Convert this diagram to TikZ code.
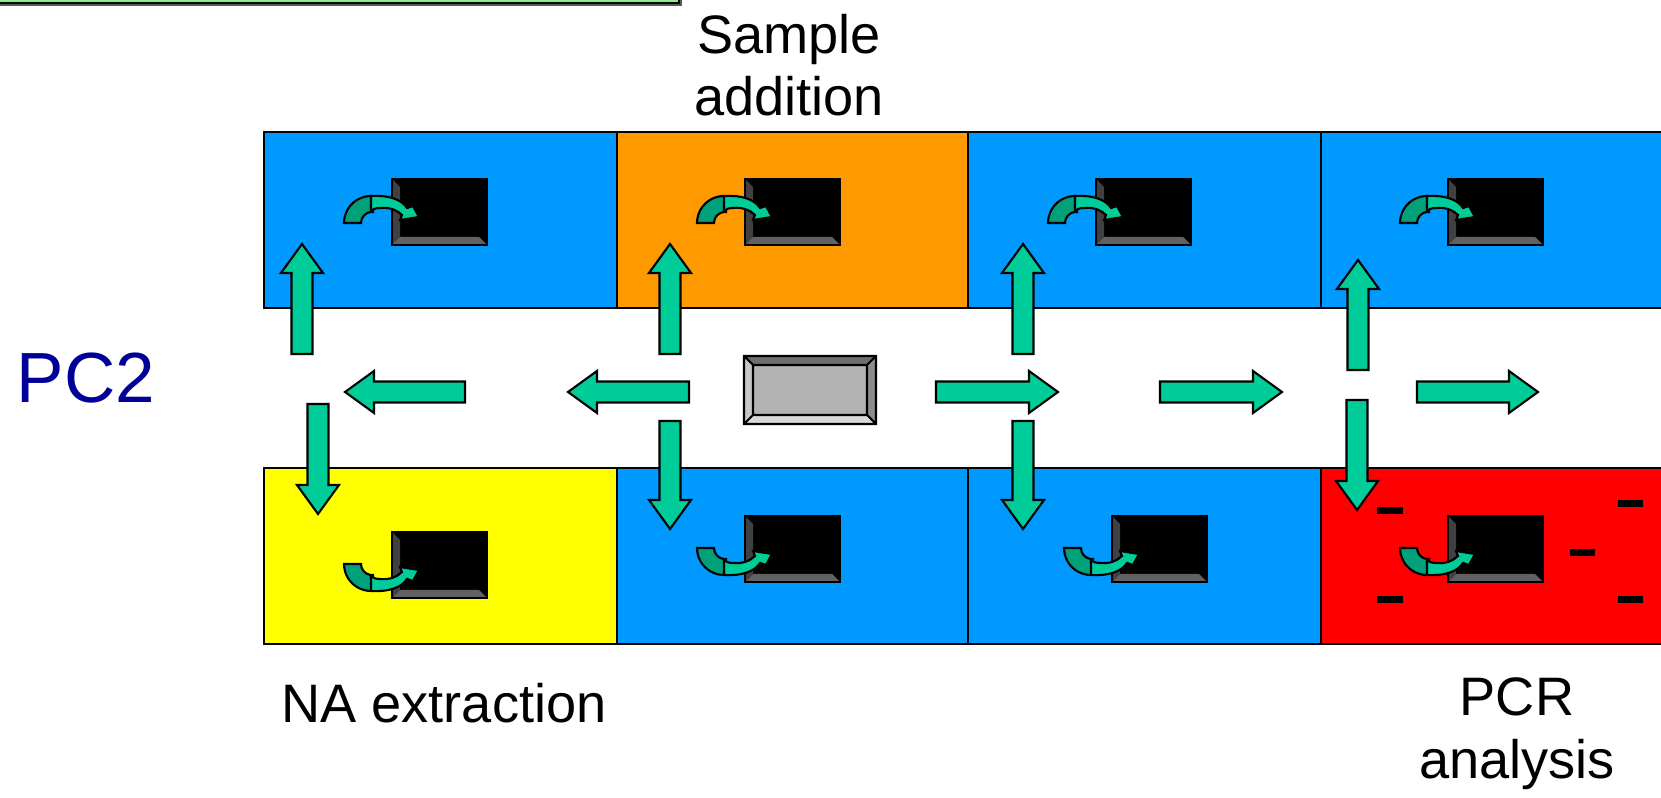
\documentclass[tikz,border=0pt]{standalone}
\usepackage{fontspec}
\setmainfont{Liberation Sans}
\definecolor{roomblue}{RGB}{0,153,255}
\definecolor{roomorange}{RGB}{255,153,0}
\definecolor{roomyellow}{RGB}{255,255,0}
\definecolor{roomred}{RGB}{255,0,0}
\definecolor{flowgreen}{RGB}{0,204,153}
\definecolor{turndark}{RGB}{0,160,122}
\definecolor{bandgreen}{RGB}{136,238,136}
\definecolor{pcblue}{RGB}{0,0,153}
\tikzset{
    room/.style={draw=black, line width=0.6pt},
    flowline/.style={draw=black, line width=0.6pt, fill=flowgreen, line join=miter},
    label/.style={inner sep=0pt, align=center, font=\fontsize{15.4}{17.8}\selectfont},
    pics/flow/.style={code={
        \path[flowline] (0,-10.5) -- ({#1-29},-10.5) -- ({#1-29},-21) -- (#1,0)
            -- ({#1-29},21) -- ({#1-29},10.5) -- (0,10.5) -- cycle;
    }},
    pics/turn/.style={code={
        \path[flowline, fill=turndark] (0,0) arc[start angle=180, end angle=275, radius=27]
            -- (29,-11) arc[start angle=275, end angle=180, radius=11] -- cycle;
        \path[flowline] (27,-27) .. controls (46,-28) and (58,-23) .. (63,-15) -- (69,-17)
            -- (75,-6) -- (56,-3) -- (58,-8) .. controls (53,-13) and (45,-16) .. (36,-15)
            .. controls (32,-15) and (29,-14) .. (27,-12) -- cycle;
    }},
    pics/slot/.style={code={
        \fill[black] (0,0) rectangle (95,66);
        \fill[black!75] (0,0) -- (8,8) -- (8,58) -- (0,66) -- cycle;
        \fill[black!62] (0,66) -- (8,58) -- (87,58) -- (95,66) -- cycle;
        \draw[line width=0.6pt] (0,0) rectangle (95,66);
    }}
}

\begin{document}
\begin{tikzpicture}[x=0.01cm, y=-0.01cm]
    \useasboundingbox (0,0) rectangle (1661,798);
    \clip (0,0) rectangle (1661,798);

    \fill[black!65] (-20,-100) rectangle (682,6);
    \draw[fill=bandgreen, line width=0.6pt] (-20,-100) rectangle (679,3);

    \draw[room, fill=roomblue] (264,132) rectangle (617,308);
    \draw[room, fill=roomorange] (617,132) rectangle (968,308);
    \draw[room, fill=roomblue] (968,132) rectangle (1321,308);
    \draw[room, fill=roomblue] (1321,132) rectangle (1690,308);
    \draw[room, fill=roomyellow] (264,468) rectangle (617,644);
    \draw[room, fill=roomblue] (617,468) rectangle (968,644);
    \draw[room, fill=roomblue] (968,468) rectangle (1321,644);
    \draw[room, fill=roomred] (1321,468) rectangle (1690,644);

    \fill (1377,507) rectangle (1403,514);
    \fill (1618,500) rectangle (1643,507);
    \fill (1570,549) rectangle (1595,556);
    \fill (1377,596) rectangle (1403,603);
    \fill (1618,596) rectangle (1643,603);

    \pic (slotA) at (392,179) {slot};
    \pic (slotB) at (745,179) {slot};
    \pic (slotC) at (1096,179) {slot};
    \pic (slotD) at (1448,179) {slot};
    \pic (slotE) at (392,532) {slot};
    \pic (slotF) at (745,516) {slot};
    \pic (slotG) at (1112,516) {slot};
    \pic (slotH) at (1448,516) {slot};

    \pic (turnA) at (344,223) {turn};
    \pic (turnB) at (697,223) {turn};
    \pic (turnC) at (1048,223) {turn};
    \pic (turnD) at (1400,223) {turn};
    \pic[yscale=-1] (turnE) at (344,564) {turn};
    \pic[yscale=-1] (turnF) at (697,548) {turn};
    \pic[yscale=-1] (turnG) at (1064,548) {turn};
    \pic[yscale=-1] (turnH) at (1400,548) {turn};

    \fill[black!30] (744,356) rectangle (876,424);
    \fill[black!57] (744,356) -- (876,356) -- (867,365) -- (753,365) -- cycle;
    \fill[black!22] (744,356) -- (753,365) -- (753,415) -- (744,424) -- cycle;
    \fill[black!45] (876,356) -- (867,365) -- (867,415) -- (876,424) -- cycle;
    \fill[black!15] (744,424) -- (753,415) -- (867,415) -- (876,424) -- cycle;
    \draw[line width=0.6pt] (744,356) rectangle (876,424) (753,365) rectangle (867,415)
        (744,356) -- (753,365) (876,356) -- (867,365) (744,424) -- (753,415) (876,424) -- (867,415);

    \pic[rotate=90] (upA) at (302,354) {flow=110};
    \pic[rotate=90] (upB) at (670,354) {flow=110};
    \pic[rotate=90] (upC) at (1023,354) {flow=110};
    \pic[rotate=90] (upD) at (1358,370) {flow=110};
    \pic[rotate=-90] (downA) at (318,404) {flow=110};
    \pic[rotate=-90] (downB) at (670,421) {flow=108};
    \pic[rotate=-90] (downC) at (1023,421) {flow=108};
    \pic[rotate=-90] (downD) at (1357,400) {flow=110};
    \pic[rotate=180] (leftA) at (465,392) {flow=120};
    \pic[rotate=180] (leftB) at (689,392) {flow=121};
    \pic (rightA) at (936,392) {flow=122};
    \pic (rightB) at (1160,392) {flow=122};
    \pic (rightC) at (1417,392) {flow=121};

    \node[label] (sample) at (789,65) {Sample\\addition};
    \node[label] (extract) at (444,703) {NA extraction};
    \node[label] (pcr) at (1517,734) {PCR\\analysis};
    \node[inner sep=0pt, text=pcblue, font=\fontsize{20.2}{24}\selectfont] (pc) at (86,378) {PC2};
\end{tikzpicture}
\end{document}
